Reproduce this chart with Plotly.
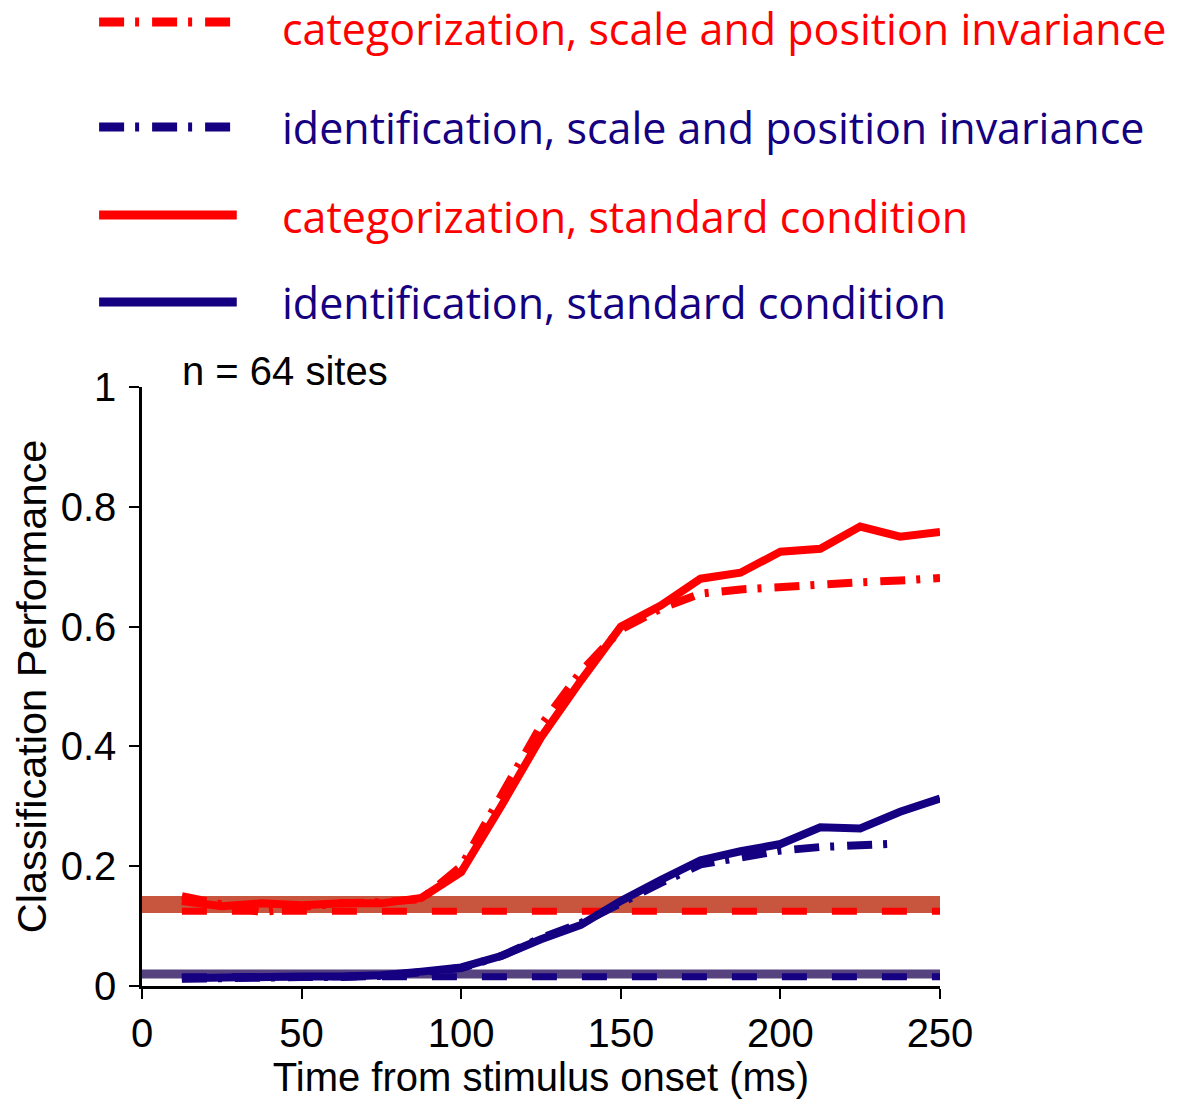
import plotly.graph_objects as go

# ---- data ----
time_ms = [12.5, 25, 37.5, 50, 62.5, 75, 87.5, 100, 112.5, 125, 137.5, 150,
           162.5, 175, 187.5, 200, 212.5, 225, 237.5, 250]

cat_standard = [0.142, 0.133, 0.138, 0.135, 0.138, 0.138, 0.147, 0.19, 0.30, 0.415,
                0.51, 0.60, 0.635, 0.68, 0.69, 0.725, 0.73, 0.767, 0.75, 0.758]
cat_invariance = [0.15, 0.138, 0.123, 0.132, 0.138, 0.14, 0.145, 0.20, 0.32, 0.435,
                  0.525, 0.595, 0.63, 0.655, 0.662, 0.667, 0.671, 0.674, 0.677, 0.681]
id_standard = [0.013, 0.015, 0.016, 0.016, 0.016, 0.018, 0.024, 0.031, 0.05, 0.078,
               0.102, 0.142, 0.177, 0.21, 0.225, 0.237, 0.265, 0.263, 0.291, 0.313]
id_time_inv = time_ms[:-1]
id_invariance = [0.012, 0.014, 0.015, 0.015, 0.015, 0.017, 0.023, 0.03, 0.05, 0.08,
                 0.105, 0.14, 0.172, 0.203, 0.215, 0.226, 0.232, 0.236, 0.238]

chance_time = [12.5, 250]
chance_cat = [0.125, 0.125]
chance_id = [0.0156, 0.0156]
band_time = [0, 250]
band_cat = [0.136, 0.136]
band_id = [0.02, 0.02]

legend_labels = ["categorization, scale and position invariance",
                 "identification, scale and position invariance",
                 "categorization, standard condition",
                 "identification, standard condition"]

x_ticks = [0, 50, 100, 150, 200, 250]
y_ticks = [0, 0.2, 0.4, 0.6, 0.8, 1]
y_tick_text = ["0", "0.2", "0.4", "0.6", "0.8", "1"]

RED = "#FF0000"
NAVY = "#140080"
RED_BAND = "#C8553D"
NAVY_BAND = "#55427F"
DASHDOT = "25px,11px,4px,13px"

fig = go.Figure()
fig.add_trace(go.Scatter(x=band_time, y=band_cat, mode="lines",
                         line=dict(color=RED_BAND, width=17), hoverinfo="skip"))
fig.add_trace(go.Scatter(x=band_time, y=band_id, mode="lines",
                         line=dict(color=NAVY_BAND, width=9), hoverinfo="skip"))
fig.add_trace(go.Scatter(x=chance_time, y=chance_cat, mode="lines",
                         line=dict(color=RED, width=7, dash="25px,25px")))
fig.add_trace(go.Scatter(x=chance_time, y=chance_id, mode="lines",
                         line=dict(color=NAVY, width=7, dash="25px,25px")))
fig.add_trace(go.Scatter(x=time_ms, y=cat_invariance, mode="lines",
                         line=dict(color=RED, width=8, dash=DASHDOT)))
fig.add_trace(go.Scatter(x=id_time_inv, y=id_invariance, mode="lines",
                         line=dict(color=NAVY, width=8, dash=DASHDOT)))
fig.add_trace(go.Scatter(x=time_ms, y=cat_standard, mode="lines",
                         line=dict(color=RED, width=8)))
fig.add_trace(go.Scatter(x=time_ms, y=id_standard, mode="lines",
                         line=dict(color=NAVY, width=8)))

# page body has an 8px default margin, so positions are shifted by -8
OFF = 8
W, H = 1198 - OFF, 1105 - OFF
L, R, T, B = 140 - OFF, 940 - OFF, 387 - OFF, 986 - OFF


def px_x(p):
    return (p - OFF - L) / (R - L)


def px_y(p):
    return (B - (p - OFF)) / (B - T)


legend_y = [22, 127, 215, 302]
legend_text_y = [28, 128, 216, 303]
legend_colors = [RED, NAVY, RED, NAVY]
legend_dash = ["dashdot", "dashdot", "solid", "solid"]
shapes = []
annotations = []
for lab, yy, ty, col, d in zip(legend_labels, legend_y, legend_text_y,
                               legend_colors, legend_dash):
    ln = dict(color=col, width=9)
    if d != "solid":
        ln["dash"] = DASHDOT
    shapes.append(dict(type="line", xref="paper", yref="paper",
                       x0=px_x(97), x1=px_x(235), y0=px_y(yy), y1=px_y(yy), line=ln))
    annotations.append(dict(text=lab, xref="paper", yref="paper",
                            x=px_x(279), y=px_y(ty), xanchor="left", yanchor="middle",
                            showarrow=False, borderpad=0,
                            font=dict(family="Open Sans", size=43, color=col)))

tick_font = dict(family="Liberation Sans", size=40, color="black")

annotations.append(dict(text="n = 64 sites", xref="paper", yref="paper",
                        x=px_x(178), y=px_y(371), xanchor="left", yanchor="middle",
                        showarrow=False,
                        font=dict(family="Liberation Sans", size=40, color="black")))

fig.update_layout(
    width=W, height=H,
    margin=dict(l=L, r=W - R, t=T, b=H - B),
    plot_bgcolor="white", paper_bgcolor="white",
    showlegend=False,
    shapes=shapes,
    annotations=annotations,
    xaxis=dict(range=[0, 250], tickvals=x_ticks, ticks="outside", ticklen=10,
               tickwidth=2, tickcolor="black", showline=True, linecolor="black",
               linewidth=2.5, showgrid=False, zeroline=False, tickfont=tick_font,
               title=dict(text="Time from stimulus onset (ms)", font=tick_font, standoff=6)),
    yaxis=dict(range=[0, 1], tickvals=y_ticks, ticktext=y_tick_text, ticks="outside",
               ticklen=10, tickwidth=2, tickcolor="black", showline=True,
               linecolor="black", linewidth=2.5, showgrid=False, zeroline=False,
               tickfont=tick_font, ticklabelstandoff=5,
               title=dict(text="Classification Performance",
                          font=dict(family="Liberation Sans", size=41.5, color="black"),
                          standoff=12)),
)

fig.write_html("out.html")
